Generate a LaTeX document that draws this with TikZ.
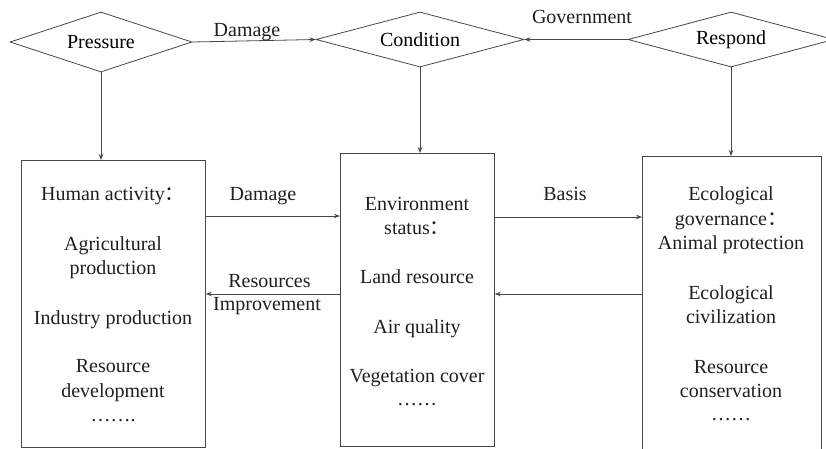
\documentclass[tikz,border=0pt]{standalone}
\usepackage{fontspec}
\setmainfont{Liberation Serif}
\newfontfamily\cjk{Noto Sans CJK SC}
\usetikzlibrary{shapes.geometric,arrows.meta}
\begin{document}
\begin{tikzpicture}[x=1pt,y=-1pt,
  line width=0.8pt,
  lc/.style={draw=black!72},
  dia/.style={lc, diamond, aspect=3, inner sep=0pt, font=\fontsize{20}{24}\selectfont},
  bx/.style={lc, rectangle, anchor=north west, inner sep=0pt},
  tx/.style={anchor=base, inner sep=0pt, font=\fontsize{20}{24}\selectfont, text=black!88},
  arr/.style={lc, -{Stealth[length=6pt,width=4.5pt]}}]
\clip (0,0) rectangle (826,448);
\useasboundingbox (0,0) rectangle (826,448);
% diamonds
\node[dia, minimum width=182pt, minimum height=60pt] (P) at (101,42) {Pressure};
\node[dia, minimum width=208pt, minimum height=55pt] (C) at (420,39.5) {Condition};
\node[dia, minimum width=206pt, minimum height=55pt] (R) at (731,39.5) {Respond};
% boxes
\node[bx, minimum width=184pt, minimum height=287pt] (L) at (21,160) {};
\node[bx, minimum width=154pt, minimum height=293pt] (M) at (340,153) {};
\node[bx, minimum width=179pt, minimum height=296pt] (Rb) at (642,156) {};
% top connectors
\draw[arr] (P.east) -- (C.west);
\draw[arr] (R.west) -- (C.east);
\node[tx] (lDam1) at (247,36) {Damage};
\node[tx] (lGov) at (582,23) {Government};
\draw[arr] (P.south) -- (P.south |- L.north);
\draw[arr] (C.south) -- (C.south |- M.north);
\draw[arr] (R.south) -- (R.south |- Rb.north);
% box connectors
\draw[arr] (L.east |- 0,216) -- (M.west |- 0,216);
\draw[arr] (M.west |- 0,294) -- (L.east |- 0,294);
\draw[arr] (M.east |- 0,217) -- (Rb.west |- 0,217);
\draw[arr] (Rb.west |- 0,294) -- (M.east |- 0,294);
\node[tx] (lDam2) at (263,200.5) {Damage};
\node[tx] (lRes) at (269.5,287) {Resources};
\node[tx] (lImp) at (267,310.5) {Improvement};
\node[tx] (lBas) at (565,200) {Basis};
% left box text
\node[tx] (l1) at (113,200.5) {Human activity{\cjk ：}};
\node[tx] (l2) at (113,250) {Agricultural};
\node[tx] (l3) at (113,274.5) {production};
\node[tx] (l4) at (113,324) {Industry production};
\node[tx] (l5) at (113,372.5) {Resource};
\node[tx] (l6) at (113,397) {development};
\node[tx] (l7) at (113,421) {…….};
% middle box text
\node[tx] (m1) at (417,210) {Environment};
\node[tx] (m2) at (417,234) {status{\cjk ：}};
\node[tx] (m3) at (417,283) {Land resource};
\node[tx] (m4) at (417,333) {Air quality};
\node[tx] (m5) at (417,382) {Vegetation cover};
\node[tx] (m6) at (417,405) {……};
% right box text
\node[tx] (r1) at (731,200) {Ecological};
\node[tx] (r2) at (731,225) {governance{\cjk ：}};
\node[tx] (r3) at (731,249) {Animal protection};
\node[tx] (r4) at (731,299) {Ecological};
\node[tx] (r5) at (731,323) {civilization};
\node[tx] (r6) at (731,373) {Resource};
\node[tx] (r7) at (731,397) {conservation};
\node[tx] (r8) at (731,420) {……};
\end{tikzpicture}
\end{document}
